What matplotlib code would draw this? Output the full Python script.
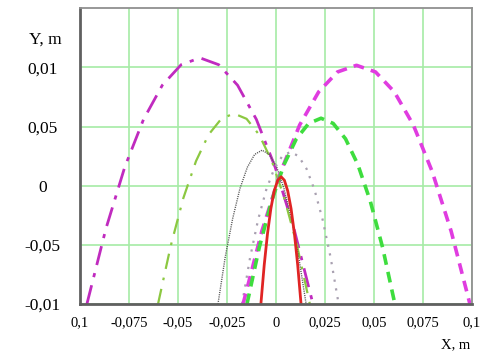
import matplotlib.pyplot as plt

# trajectories (x, y in metres)
x_mag_dd = [-0.0965, -0.0868, -0.0772, -0.0676, -0.0580, -0.0484, -0.0388, -0.0292, -0.0196, -0.0100, -0.0004, 0.0092, 0.0189]
y_mag_dd = [-0.1, -0.0364, 0.0156, 0.056, 0.0849, 0.1022, 0.108, 0.1022, 0.0849, 0.056, 0.0156, -0.0364, -0.1]

x_yg_dd = [-0.0602, -0.0537, -0.0473, -0.0408, -0.0344, -0.0279, -0.0215, -0.0150, -0.0086, -0.0021, 0.0043, 0.0108, 0.0173]
y_yg_dd = [-0.1, -0.0508, -0.0106, 0.0208, 0.0431, 0.0565, 0.061, 0.0565, 0.0431, 0.0208, -0.0106, -0.0508, -0.1]

x_blk_dot = [-0.0296, -0.0259, -0.0221, -0.0184, -0.0146, -0.0109, -0.0071, -0.0034, 0.0004, 0.0041, 0.0079, 0.0116, 0.0154]
y_blk_dot = [-0.1, -0.0603, -0.0278, -0.0025, 0.0156, 0.0264, 0.030, 0.0264, 0.0156, -0.0025, -0.0278, -0.0603, -0.1]

x_gray_dot = [-0.0173, -0.0132, -0.0091, -0.0050, -0.0009, 0.0032, 0.0074, 0.0115, 0.0156, 0.0197, 0.0238, 0.0279, 0.0320]
y_gray_dot = [-0.1, -0.0607, -0.0286, -0.0036, 0.0143, 0.0250, 0.0286, 0.0250, 0.0143, -0.0036, -0.0286, -0.0607, -0.1]

x_mag_dash = [-0.0168, -0.0072, 0.0025, 0.0121, 0.0218, 0.0314, 0.0411, 0.0508, 0.0604, 0.0701, 0.0797, 0.0894, 0.0990]
y_mag_dash = [-0.1, -0.0384, 0.0121, 0.0513, 0.0793, 0.0961, 0.1017, 0.0961, 0.0793, 0.0513, 0.0121, -0.0384, -0.1]

x_grn_dash = [-0.0148, -0.0085, -0.0022, 0.0041, 0.0104, 0.0167, 0.0230, 0.0292, 0.0355, 0.0418, 0.0481, 0.0544, 0.0607]
y_grn_dash = [-0.1, -0.052, -0.0128, 0.0178, 0.0396, 0.0526, 0.057, 0.0526, 0.0396, 0.0178, -0.0128, -0.052, -0.1]

x_red = [-0.0077, -0.0060, -0.0043, -0.0026, -0.0009, 0.0009, 0.0026, 0.0043, 0.0060, 0.0077, 0.0094, 0.0111, 0.0128]
y_red = [-0.1, -0.0671, -0.0402, -0.0193, -0.0044, 0.0046, 0.0076, 0.0046, -0.0044, -0.0193, -0.0402, -0.0671, -0.1]

xticks = [-0.1, -0.075, -0.05, -0.025, 0, 0.025, 0.05, 0.075, 0.1]
xlabels = ['0,1', '-0,075', '-0,05', '-0,025', '0', '0,025', '0,05', '0,075', '0,1']
yticks = [-0.1, -0.05, 0, 0.05, 0.1]
ylabels = ['-0,01', '-0,05', '0', '0,05', '0,01']

plt.rcParams['font.family'] = ['Liberation Serif', 'DejaVu Serif']

fig = plt.figure(figsize=(4.85, 3.54), dpi=100)
ax = fig.add_axes([0.165, 0.141, 0.808, 0.836])

ax.plot(x_mag_dd, y_mag_dd, color='#C02BBF', lw=2, dashes=(7, 3, 1.5, 3))
ax.plot(x_yg_dd, y_yg_dd, color='#8CC841', lw=1.6, dashes=(7, 4, 1.2, 4))
ax.plot(x_blk_dot, y_blk_dot, color='#555555', lw=1, dashes=(0.8, 0.8))
ax.plot(x_gray_dot, y_gray_dot, color='#A8A0B0', lw=1.6, dashes=(1, 3))
ax.plot(x_mag_dash, y_mag_dash, color='#E03CE0', lw=2.6, dashes=(3, 2))
ax.plot(x_grn_dash, y_grn_dash, color='#3EDD3E', lw=2.6, dashes=(3, 2))
ax.plot(x_red, y_red, color='#E02424', lw=2)

ax.set_xlim(-0.1, 0.1)
ax.set_ylim(-0.1, 0.15)
ax.set_xticks(xticks)
ax.set_xticklabels(xlabels, fontsize=10.5)
ax.set_yticks(yticks)
ax.set_yticklabels(ylabels, fontsize=12.5, ha='center')
ax.tick_params(axis='y', length=0, pad=27)
ax.tick_params(axis='x', length=0, pad=9)
ax.grid(True, color='#A6EBA6', lw=1.2)
ax.set_axisbelow(True)

for side in ['left', 'bottom']:
    ax.spines[side].set_color('#606060')
    ax.spines[side].set_linewidth(2)
for side in ['top', 'right']:
    ax.spines[side].set_color('#909090')
    ax.spines[side].set_linewidth(1.3)

fig.text(45 / 485, 1 - 40 / 354, 'Y, m', fontsize=12.5, ha='center', va='center')
fig.text(456 / 485, 1 - 345 / 354, 'X, m', fontsize=10.5, ha='center', va='center')

plt.savefig('out.png', dpi=100)
